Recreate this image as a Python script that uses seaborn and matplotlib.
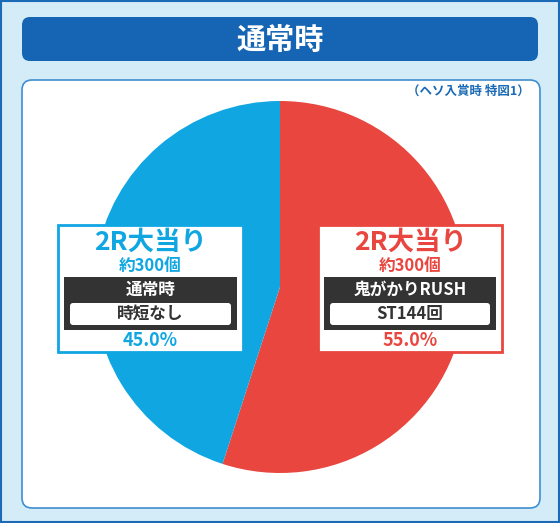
import matplotlib
matplotlib.use("Agg")
import matplotlib.pyplot as plt
import seaborn as sns
from matplotlib.patches import FancyBboxPatch, Rectangle

sns.set_theme(style="white")
plt.rcParams['font.family'] = ['Noto Sans CJK JP', 'DejaVu Sans']

title = "通常時"
note = "（ヘソ入賞時 特図1）"
labels = ["2R大当り", "2R大当り"]
subs = ["約300個", "約300個"]
modes = ["鬼がかりRUSH", "通常時"]
details = ["ST144回", "時短なし"]
values = [55.0, 45.0]
colors = ["#e8463e", "#0fa6e2"]

W, H = 560, 523
fig = plt.figure(figsize=(W/100, H/100), dpi=100)
fig.patch.set_facecolor("#d4ebf8")
bg = fig.add_axes([0, 0, 1, 1])
bg.set_xlim(0, W); bg.set_ylim(H, 0); bg.axis("off")
bg.add_patch(Rectangle((1, 1), W-2, H-2, fc="#d4ebf8", ec="#1a6ab5", lw=1.5))
bg.add_patch(FancyBboxPatch((22, 17), 516, 44, boxstyle="round,pad=0,rounding_size=8", fc="#1565b4", ec="none"))
bg.text(280, 40, title, color="white", fontsize=21, fontweight="bold", ha="center", va="center")
bg.add_patch(FancyBboxPatch((22, 80), 518, 428, boxstyle="round,pad=0,rounding_size=10", fc="white", ec="#3f8fd0", lw=1.2))
bg.text(530, 91, note, color="#1a6ab5", fontsize=9, fontweight="bold", ha="right", va="center")

cx, cy, r = 280, 287, 186
pa = fig.add_axes([(cx-r)/W, (H-cy-r)/H, 2*r/W, 2*r/H])
pa.pie(values, colors=colors, startangle=90, counterclock=False,
       wedgeprops=dict(linewidth=0))
pa.set_xlim(-1, 1); pa.set_ylim(-1, 1)
pa.set_aspect("auto")
pa.axis("off")

ov = fig.add_axes([0, 0, 1, 1])
ov.set_xlim(0, W); ov.set_ylim(H, 0); ov.axis("off"); ov.patch.set_alpha(0)
boxes = [(318, 502), (58, 243)]
for i, (x0, x1) in enumerate(boxes):
    c = colors[i]
    xc = (x0 + x1) / 2
    ov.add_patch(Rectangle((x0, 225), x1-x0, 127, fc="white", ec=c, lw=2))
    ov.text(xc, 242, labels[i], color=c, fontsize=19, fontweight="bold", ha="center", va="center")
    ov.text(xc, 266, subs[i], color=c, fontsize=12, fontweight="bold", ha="center", va="center")
    ov.add_patch(Rectangle((x0+6, 277), x1-x0-12, 53, fc="#333333", ec="none"))
    ov.text(xc, 290, modes[i], color="white", fontsize=12, fontweight="bold", ha="center", va="center")
    ov.add_patch(FancyBboxPatch((x0+12, 303), x1-x0-24, 22, boxstyle="round,pad=0,rounding_size=3", fc="white", ec="none"))
    ov.text(xc, 314, details[i], color="#333333", fontsize=12, fontweight="bold", ha="center", va="center")
    ov.text(xc, 341, f"{values[i]:.1f}%", color=c, fontsize=13, fontweight="bold", ha="center", va="center")

fig.savefig("out.png", dpi=100)
